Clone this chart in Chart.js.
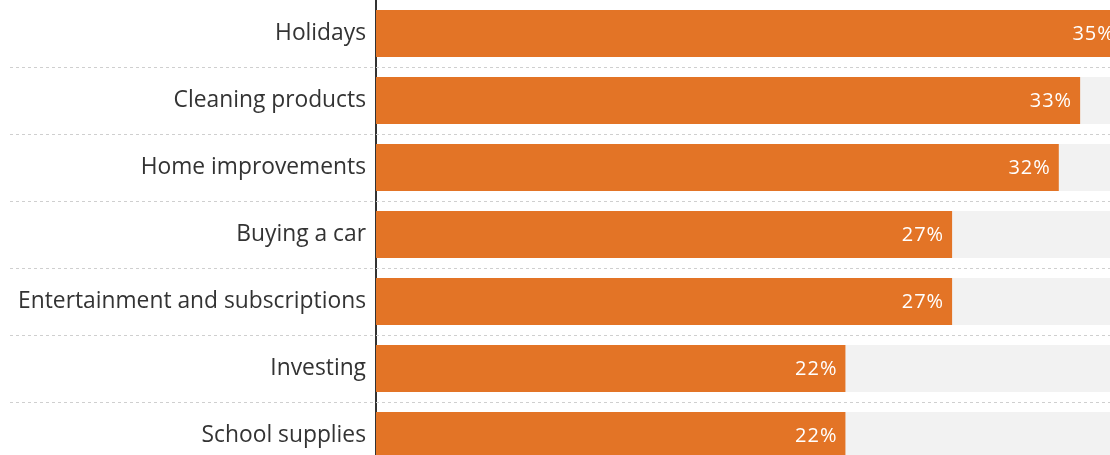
<!DOCTYPE html>
<html lang="en">
<head>
    <meta charset="UTF-8">
    <title>Spending categories</title>
    <script src="https://cdn.jsdelivr.net/npm/chart.js"></script>
    <style>
        * {
            margin: 0;
            padding: 0;
            box-sizing: border-box;
        }

        html, body {
            width: 1110px;
            height: 455px;
            overflow: hidden;
            background: #ffffff;
        }

        .chart-box {
            position: relative;
            width: 1110px;
            height: 469px;
        }
    </style>
</head>
<body>
    <div class="chart-box">
        <canvas id="spendChart"></canvas>
    </div>

    <script>
        // values
        const categories = [
            'Holidays',
            'Cleaning products',
            'Home improvements',
            'Buying a car',
            'Entertainment and subscriptions',
            'Investing',
            'School supplies'
        ];
        const shares = [35, 33, 32, 27, 27, 22, 22];
        // the picture is cropped on the right, the visible axis ends a bit under 35
        const axisMax = 34.4;

        // dotted separators between rows, reaching into the label area
        const rowSeparators = {
            id: 'rowSeparators',
            beforeDatasetsDraw(chart) {
                const y = chart.scales.y;
                const ctx = chart.ctx;
                ctx.save();
                ctx.strokeStyle = '#cfcfcf';
                ctx.lineWidth = 1;
                ctx.setLineDash([3, 3]);
                for (let i = 0; i < categories.length - 1; i++) {
                    const py = Math.round((y.getPixelForValue(i) + y.getPixelForValue(i + 1)) / 2) + 0.5;
                    ctx.beginPath();
                    ctx.moveTo(10, py);
                    ctx.lineTo(chart.width, py);
                    ctx.stroke();
                }
                ctx.restore();
            }
        };

        // white percentage labels inside the bar ends
        const valueLabels = {
            id: 'valueLabels',
            afterDatasetsDraw(chart) {
                const meta = chart.getDatasetMeta(0);
                const ctx = chart.ctx;
                ctx.save();
                ctx.fillStyle = '#ffffff';
                ctx.font = '20px "Open Sans", sans-serif';
                ctx.letterSpacing = '1px';
                ctx.textAlign = 'right';
                ctx.textBaseline = 'middle';
                meta.data.forEach((bar, i) => {
                    ctx.fillText(shares[i] + '%', bar.x - 8, bar.y + 1);
                });
                ctx.restore();
            }
        };

        new Chart(document.getElementById('spendChart'), {
            type: 'bar',
            data: {
                labels: categories,
                datasets: [{
                    data: shares,
                    backgroundColor: '#e37426',
                    borderWidth: 0,
                    grouped: false,
                    barPercentage: 0.7,
                    categoryPercentage: 1
                }, {
                    data: categories.map(() => axisMax),
                    backgroundColor: '#f2f2f2',
                    borderWidth: 0,
                    grouped: false,
                    barPercentage: 0.7,
                    categoryPercentage: 1
                }]
            },
            options: {
                indexAxis: 'y',
                responsive: true,
                maintainAspectRatio: false,
                animation: false,
                layout: { padding: 0 },
                plugins: {
                    legend: { display: false },
                    tooltip: { enabled: false }
                },
                scales: {
                    x: {
                        display: false,
                        min: 0,
                        max: axisMax
                    },
                    y: {
                        afterFit(scale) {
                            scale.width = 376;
                            // no extra room above/below, the rows fill the whole height
                            scale.paddingTop = 0;
                            scale.paddingBottom = 0;
                        },
                        grid: { display: false, drawTicks: false },
                        border: { display: true, color: '#333333', width: 2 },
                        ticks: {
                            padding: 10,
                            color: '#333333',
                            font: { family: '"Open Sans", sans-serif', size: 22.8 }
                        }
                    }
                }
            },
            plugins: [rowSeparators, valueLabels]
        });
    </script>
</body>
</html>
